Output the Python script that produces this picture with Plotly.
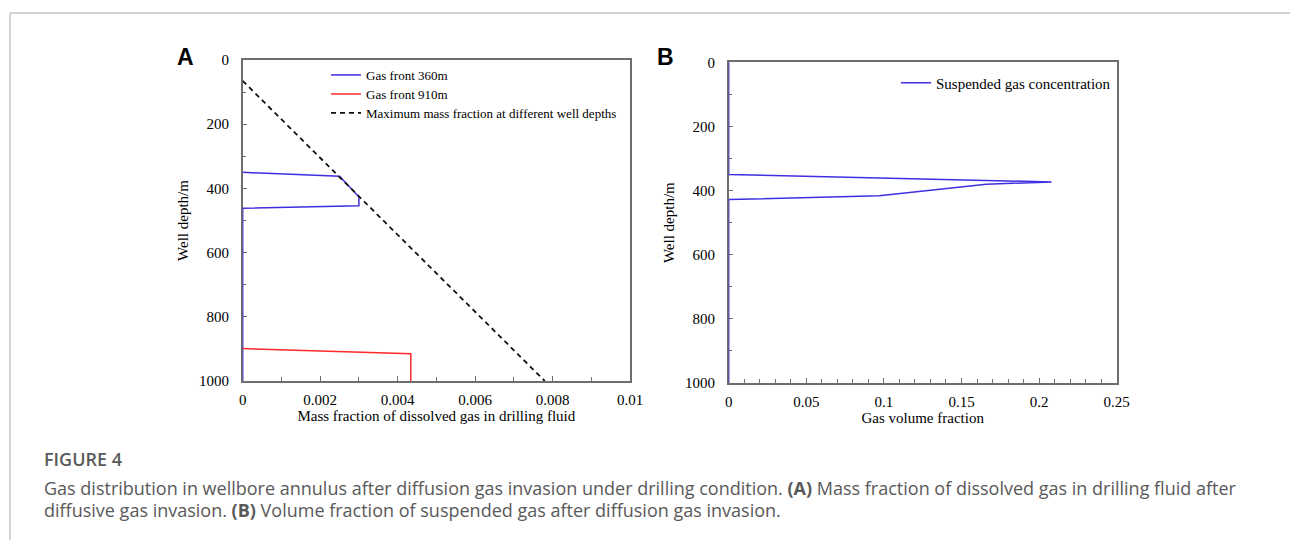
import plotly.graph_objects as go

# ---------------- data ----------------
# Panel A: mass fraction of dissolved gas vs well depth
a_front360_x = [0, 0.0025, 0.0030, 0.0030, 0, 0]
a_front360_y = [350, 362, 426, 454, 462, 1000]
a_front910_x = [0, 0.00434, 0.00434]
a_front910_y = [899, 915, 1000]
a_max_x = [0, 0.0078]
a_max_y = [65, 1000]

# Panel B: suspended gas volume fraction vs well depth
b_susp_x = [0, 0, 0.208, 0.166, 0.097, 0, 0]
b_susp_y = [0, 350, 373, 380, 416, 428, 1000]

a_xtick_vals = [0, 0.002, 0.004, 0.006, 0.008, 0.01]
a_xtick_text = ["0", "0.002", "0.004", "0.006", "0.008", "0.01"]
b_xtick_vals = [0, 0.05, 0.1, 0.15, 0.2, 0.25]
b_xtick_text = ["0", "0.05", "0.1", "0.15", "0.2", "0.25"]
y_tick_vals = [0, 200, 400, 600, 800, 1000]
y_tick_text = ["0", "200", "400", "600", "800", "1000"]

BLUE = "#3f2fe0"
RED = "#ff2a2a"
AX = "#6e6e6e"
SERIF = "Liberation Serif"

fig = go.Figure()

fig.add_trace(go.Scatter(x=a_front360_x, y=a_front360_y, mode="lines",
                         name="Gas front 360m", line=dict(color=BLUE, width=1.5),
                         xaxis="x", yaxis="y", legend="legend", cliponaxis=False))
fig.add_trace(go.Scatter(x=a_front910_x, y=a_front910_y, mode="lines",
                         name="Gas front 910m", line=dict(color=RED, width=1.5),
                         xaxis="x", yaxis="y", legend="legend3", cliponaxis=False))
fig.add_trace(go.Scatter(x=a_max_x, y=a_max_y, mode="lines",
                         name="Maximum mass fraction at different well depths",
                         line=dict(color="#111111", width=1.8, dash="5px,4px"),
                         xaxis="x", yaxis="y", legend="legend4", cliponaxis=False))
fig.add_trace(go.Scatter(x=b_susp_x, y=b_susp_y, mode="lines",
                         name="Suspended gas concentration", line=dict(color=BLUE, width=1.5),
                         xaxis="x2", yaxis="y2", legend="legend2", cliponaxis=False))

W, H = 1290, 540
FS = 15


def xaxis(domain, rng, vals, text, minor_dtick, title, anchor):
    return dict(domain=domain, range=rng, anchor=anchor, showline=True, linecolor=AX,
                linewidth=1.5, mirror=True, ticks="inside", ticklen=5, tickwidth=1,
                tickcolor=AX, tickvals=vals, ticktext=text, showgrid=False, zeroline=False,
                minor=dict(ticks="inside", ticklen=4, tickwidth=1, tickcolor=AX,
                           dtick=minor_dtick, tick0=0, showgrid=False),
                tickfont=dict(family=SERIF, size=FS, color="black"),
                ticklabelstandoff=4, automargin=False, layer="below traces",
                title=dict(text=title, font=dict(family=SERIF, size=FS, color="black"),
                           standoff=0))


def yaxis(domain, anchor):
    return dict(domain=domain, range=[1000, 0], anchor=anchor, showline=True, linecolor=AX,
                linewidth=1.5, mirror=True, ticks="inside", ticklen=5, tickwidth=1,
                tickcolor=AX, tickvals=y_tick_vals, ticktext=y_tick_text, showgrid=False,
                zeroline=False,
                minor=dict(ticks="inside", ticklen=4, tickwidth=1, tickcolor=AX,
                           dtick=100, tick0=0, showgrid=False),
                tickfont=dict(family=SERIF, size=FS, color="black"),
                ticklabelstandoff=9, automargin=False, layer="below traces",
                title=dict(text="Well depth/m", font=dict(family=SERIF, size=FS, color="black"),
                           standoff=7))


def leg(px, py, size):
    return dict(x=px / W, y=1 - py / H, xanchor="left", yanchor="middle",
                bgcolor="rgba(0,0,0,0)", font=dict(family=SERIF, size=size, color="black"),
                itemwidth=30)


fig.update_layout(
    width=W, height=H, template="none",
    margin=dict(l=0, r=0, t=0, b=0),
    paper_bgcolor="white", plot_bgcolor="white",
    xaxis=xaxis([242.7 / W, 630 / W], [0, 0.01], a_xtick_vals, a_xtick_text, 0.001,
                "Mass fraction of dissolved gas in drilling fluid", "y"),
    yaxis=yaxis([1 - 381 / H, 1 - 60 / H], "x"),
    xaxis2=xaxis([728.7 / W, 1116.7 / W], [0, 0.25], b_xtick_vals, b_xtick_text, 0.01,
                 "Gas volume fraction", "y2"),
    yaxis2=yaxis([1 - 383 / H, 1 - 62.3 / H], "x2"),
    legend=leg(326, 75, 13),
    legend3=leg(326, 94, 13),
    legend4=leg(326, 113, 13),
    legend2=leg(896, 83, 15),
    showlegend=True,
)

# page frame lines
fig.add_shape(type="line", xref="paper", yref="paper", x0=10 / W, x1=1, y0=1 - 13 / H,
              y1=1 - 13 / H, line=dict(color="#d4d4d4", width=2))
fig.add_shape(type="line", xref="paper", yref="paper", x0=10 / W, x1=10 / W, y0=0,
              y1=1 - 13 / H, line=dict(color="#d4d4d4", width=2))

# panel letters
for letter, px in (("A", 185), ("B", 665)):
    fig.add_annotation(text=letter, xref="paper", yref="paper", x=px / W, y=1 - 57 / H,
                       showarrow=False, xanchor="center", yanchor="middle",
                       font=dict(family="Liberation Sans", size=23, color="black", weight="bold"))

CAP = "Open Sans"
fig.add_annotation(text="FIGURE 4", xref="paper", yref="paper", x=42 / W, y=1 - 459 / H,
                   showarrow=False, xanchor="left", yanchor="middle",
                   font=dict(family=CAP, size=18, color="#5a5a5a", weight=600))
fig.add_annotation(text="Gas distribution in wellbore annulus after diffusion gas invasion under drilling condition. "
                        "<b>(A)</b> Mass fraction of dissolved gas in drilling fluid after",
                   xref="paper", yref="paper", x=42 / W, y=1 - 488 / H, showarrow=False,
                   xanchor="left", yanchor="middle", font=dict(family=CAP, size=18, color="#595959"))
fig.add_annotation(text="diffusive gas invasion. <b>(B)</b> Volume fraction of suspended gas after diffusion gas invasion.",
                   xref="paper", yref="paper", x=42 / W, y=1 - 510 / H, showarrow=False,
                   xanchor="left", yanchor="middle", font=dict(family=CAP, size=18, color="#595959"))

fig.write_html("out.html")
